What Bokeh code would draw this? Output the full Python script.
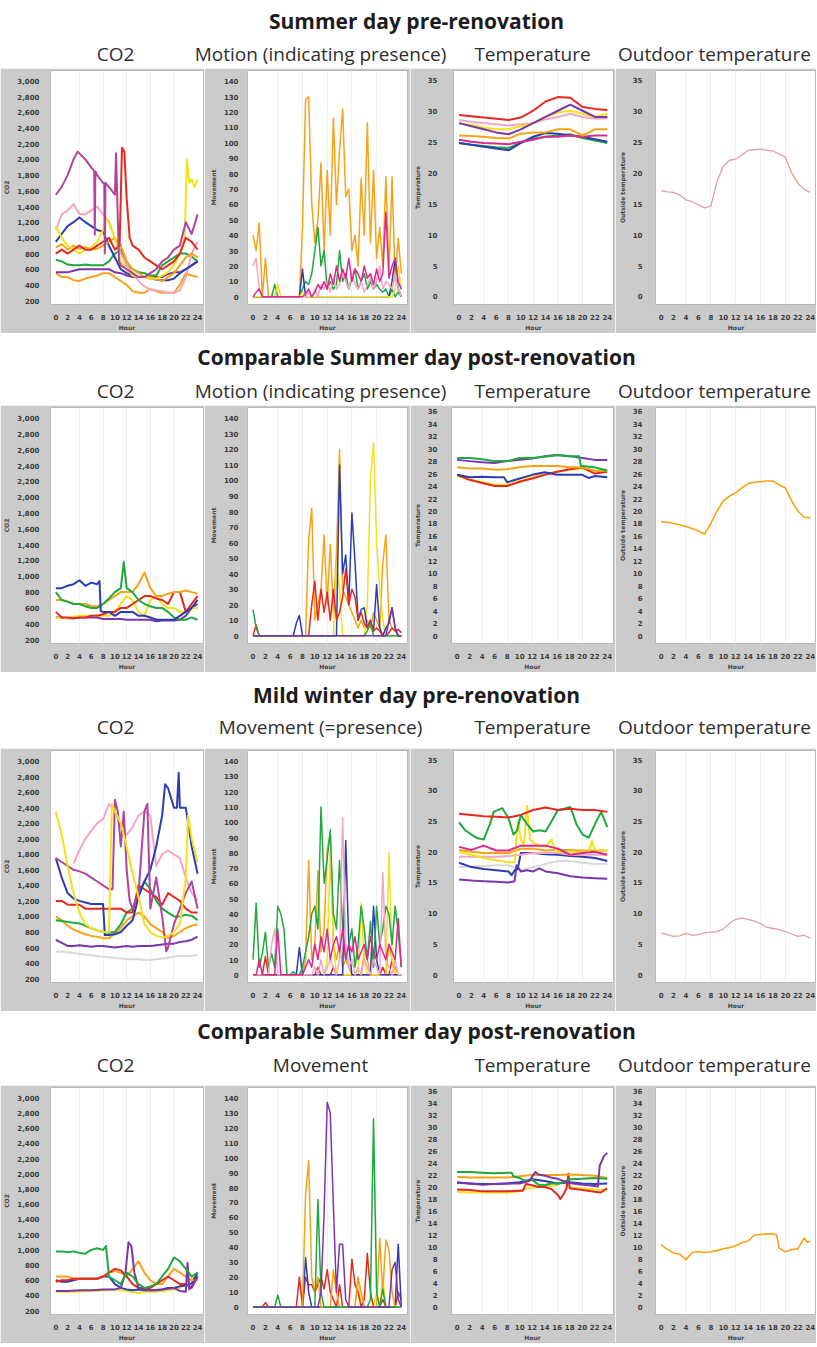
from bokeh.plotting import figure
from bokeh.layouts import column, row
from bokeh.models import Range1d, FixedTicker, NumeralTickFormatter
from bokeh.core.properties import value
from bokeh.embed import file_html
from bokeh.resources import INLINE

# ---------------- common x grids ----------------
HOURS = list(range(25))
EVEN_HOURS = list(range(0, 25, 2))
HALF_HOURS = [i / 2 for i in range(49)]
X_TICKS = list(range(0, 25, 2))

ROW_TITLES = ["Summer day pre-renovation", "Comparable Summer day post-renovation",
              "Mild winter day pre-renovation", "Comparable Summer day post-renovation"]
ROW_SUBTITLES = [["CO2", "Motion (indicating presence)", "Temperature", "Outdoor temperature"],
                 ["CO2", "Motion (indicating presence)", "Temperature", "Outdoor temperature"],
                 ["CO2", "Movement (=presence)", "Temperature", "Outdoor temperature"],
                 ["CO2", "Movement", "Temperature", "Outdoor temperature"]]

# ---------------- Row 1 : Summer day pre-renovation ----------------
R1_CO2_PLUM_X = [0, 1, 2, 3, 3.7, 5, 6, 6.5, 6.6, 6.7, 7, 8, 8.2, 8.3, 8.4, 9, 10, 10.2, 10.4, 10.7, 11, 12, 13, 14, 15, 16, 17, 18, 19, 20, 21, 22, 23, 24]
R1_CO2_PLUM = [1550, 1650, 1800, 2000, 2100, 2000, 1900, 1850, 1040, 1850, 1800, 1700, 1700, 800, 1700, 1650, 1550, 2080, 1500, 700, 650, 600, 550, 500, 500, 550, 600, 700, 750, 850, 900, 1200, 1050, 1300]
R1_CO2_RED_X = [0, 1, 2, 3, 4, 5, 6, 7, 8, 9, 10, 10.8, 11.2, 11.6, 12, 12.5, 13, 14, 15, 16, 17, 18, 19, 20, 21, 22, 23, 24]
R1_CO2_RED = [800, 850, 800, 850, 900, 850, 850, 900, 950, 1000, 850, 900, 2150, 2100, 1500, 1000, 900, 850, 750, 700, 650, 600, 650, 700, 800, 1000, 950, 850]
R1_CO2_PINK = [1100, 1300, 1350, 1430, 1300, 1300, 1350, 1400, 1300, 1200, 1000, 800, 650, 550, 450, 380, 340, 330, 320, 300, 300, 330, 500, 800, 950]
R1_CO2_BLUE = [950, 1050, 1150, 1200, 1260, 1200, 1150, 1100, 1080, 900, 750, 600, 550, 520, 500, 500, 480, 470, 460, 460, 480, 550, 600, 650, 700]
R1_CO2_YELLOW_X = [0, 1, 2, 3, 4, 5, 6, 7, 8, 8.5, 9, 10, 11, 12, 13, 14, 15, 16, 17, 18, 19, 20, 21, 21.8, 22.2, 22.6, 23, 23.5, 24]
R1_CO2_YELLOW = [1150, 1000, 900, 850, 800, 850, 880, 950, 1100, 1250, 1200, 1000, 700, 600, 520, 500, 500, 480, 480, 520, 560, 650, 800, 1000, 2000, 1700, 1750, 1650, 1750]
R1_CO2_ORANGE_HI = [880, 920, 850, 900, 860, 880, 850, 860, 900, 950, 1000, 900, 700, 600, 550, 500, 500, 480, 450, 500, 550, 650, 750, 800, 750]
R1_CO2_ORANGE_LO = [550, 500, 500, 460, 450, 480, 500, 520, 550, 550, 500, 450, 400, 320, 300, 300, 350, 320, 300, 300, 300, 400, 550, 520, 500]
R1_CO2_GREEN = [720, 700, 660, 650, 650, 660, 650, 650, 650, 700, 800, 850, 650, 600, 560, 550, 520, 520, 650, 700, 750, 800, 800, 760, 700]
R1_CO2_PURPLE = [560, 560, 560, 580, 600, 600, 600, 600, 600, 600, 560, 550, 520, 500, 500, 500, 500, 500, 500, 540, 560, 560, 600, 650, 700]

R1_MOV_ORANGE = [40, 30, 48, 0, 25, 0, 0, 0, 0, 0, 0, 0, 0, 0, 0, 0, 45, 128, 130, 60, 35, 50, 87, 30, 82, 40, 116, 60, 95, 122,
                 65, 70, 30, 40, 20, 77, 40, 113, 35, 82, 25, 45, 20, 78, 15, 78, 10, 38, 15]
R1_MOV_GREEN = [0, 0, 0, 0, 0, 0, 0, 8, 0, 0, 0, 0, 0, 0, 0, 0, 5, 10, 8, 15, 30, 45, 20, 30, 5, 10, 5, 8, 30, 10,
                15, 5, 12, 18, 5, 10, 15, 5, 10, 5, 8, 5, 3, 5, 0, 5, 0, 3, 0]
R1_MOV_MAGENTA = [0, 3, 5, 0, 0, 0, 0, 0, 0, 0, 0, 0, 0, 0, 0, 0, 0, 2, 5, 0, 3, 8, 5, 10, 5, 15, 8, 20, 10, 18,
                  12, 25, 10, 18, 15, 10, 20, 12, 15, 8, 18, 10, 15, 55, 12, 20, 25, 10, 5]
R1_MOV_PINK = [20, 25, 5, 0, 0, 0, 0, 0, 0, 0, 0, 0, 0, 0, 0, 0, 0, 0, 3, 0, 5, 0, 8, 5, 10, 3, 12, 5, 8, 15,
               10, 5, 15, 8, 5, 10, 3, 8, 12, 5, 10, 20, 5, 10, 8, 5, 15, 5, 0]
R1_MOV_BLUE = [0, 0, 0, 0, 0, 0, 0, 0, 0, 0, 0, 0, 0, 0, 0, 0, 18, 0, 0, 0, 0, 0, 0, 0, 0, 0, 0, 0, 0, 0,
               0, 0, 0, 0, 0, 0, 0, 0, 0, 0, 0, 0, 0, 0, 0, 10, 25, 5, 0]
R1_MOV_YELLOW = [0, 0, 0, 0, 0, 0, 0, 0, 8, 0, 0, 0, 0, 0, 0, 0, 3, 0, 0, 0, 0, 0, 0, 0, 0, 0, 0, 0, 0, 0,
                 0, 0, 0, 0, 0, 0, 0, 0, 0, 0, 0, 0, 0, 0, 0, 0, 5, 20, 5]

R1_T_RED = [29.3, 29.1, 28.9, 28.7, 28.5, 28.9, 30.0, 31.5, 32.2, 32.1, 30.6, 30.3, 30.1]
R1_T_PURPLE = [28.0, 27.5, 27.0, 26.5, 26.2, 27.0, 28.0, 29.0, 30.0, 31.0, 30.0, 29.0, 29.0]
R1_T_YELLOW = [28.0, 27.7, 27.3, 27.0, 27.0, 27.5, 28.0, 29.0, 29.7, 30.0, 29.5, 29.0, 29.5]
R1_T_PINK = [28.5, 28.2, 28.0, 27.8, 27.6, 27.8, 28.0, 28.6, 29.0, 29.5, 29.0, 28.7, 28.8]
R1_T_ORANGE = [26.0, 25.9, 25.8, 25.6, 25.5, 26.3, 26.5, 26.5, 27.0, 27.0, 26.0, 27.0, 27.0]
R1_T_MAGENTA = [25.3, 25.0, 24.8, 24.7, 24.6, 25.0, 25.3, 25.8, 25.8, 26.0, 25.8, 26.0, 26.0]
R1_T_BLUE = [24.8, 24.5, 24.2, 23.9, 23.6, 24.8, 25.8, 26.4, 26.3, 26.0, 25.8, 25.4, 25.0]
R1_T_GREEN = [24.8, 24.5, 24.3, 24.1, 24.0, 24.8, 25.5, 25.8, 26.0, 26.2, 25.6, 25.2, 24.8]

R1_OUTDOOR = [17.1, 16.9, 16.8, 16.4, 15.6, 15.3, 14.8, 14.3, 14.6, 18.6, 21.0, 22.0, 22.2, 22.8, 23.6, 23.7, 23.8, 23.6, 23.5, 23.0, 22.5, 20.0, 18.3, 17.3, 16.8]

# ---------------- Row 2 : Comparable summer day post-renovation ----------------
R2_CO2_BLUE_X = [0, 1, 2, 3, 4, 5, 6, 7, 7.4, 7.6, 8, 9, 10, 11, 12, 13, 14, 15, 16, 17, 18, 19, 20, 21, 22, 23, 24]
R2_CO2_BLUE = [850, 850, 880, 900, 950, 880, 920, 900, 940, 560, 550, 550, 500, 550, 550, 550, 500, 500, 480, 450, 450, 450, 450, 500, 550, 600, 700]
R2_CO2_GREEN_X = [0, 1, 2, 3, 4, 5, 6, 7, 8, 9, 10, 11, 11.5, 12, 13, 14, 15, 16, 17, 18, 19, 20, 21, 22, 23, 24]
R2_CO2_GREEN = [800, 700, 680, 650, 650, 620, 600, 600, 650, 720, 800, 850, 1180, 850, 800, 700, 650, 620, 600, 600, 550, 480, 450, 450, 480, 450]
R2_CO2_ORANGE = [700, 700, 680, 650, 650, 650, 620, 620, 650, 700, 750, 800, 800, 800, 900, 1050, 850, 750, 750, 780, 800, 800, 820, 800, 780]
R2_CO2_YELLOW = [470, 480, 470, 490, 500, 500, 500, 500, 500, 500, 550, 650, 750, 700, 550, 500, 700, 750, 650, 600, 600, 550, 550, 600, 600]
R2_CO2_RED = [550, 480, 480, 470, 480, 480, 500, 500, 520, 550, 550, 600, 600, 650, 700, 750, 750, 720, 700, 650, 800, 800, 550, 650, 750]
R2_CO2_PURPLE = [480, 480, 470, 470, 480, 480, 480, 480, 460, 460, 460, 460, 450, 450, 450, 450, 450, 430, 440, 440, 440, 450, 500, 600, 650]

R2_MOV_GREEN = [17, 5, 0, 0, 0, 0, 0, 0, 0, 0, 0, 0, 0, 0, 0, 0, 0, 0, 0, 0, 0, 0, 0, 0, 0, 0, 0, 0, 0, 0,
                0, 0, 0, 0, 0, 0, 0, 3, 8, 0, 0, 0, 0, 0, 0, 0, 0, 0, 0]
R2_MOV_BLUE = [0, 0, 0, 0, 0, 0, 0, 0, 0, 0, 0, 0, 0, 0, 8, 13, 0, 0, 0, 0, 0, 0, 0, 0, 0, 0, 0, 0, 110, 40,
               52, 20, 79, 48, 10, 17, 18, 5, 10, 3, 33, 5, 0, 5, 8, 18, 5, 0, 0]
R2_MOV_ORANGE = [0, 0, 0, 0, 0, 0, 0, 0, 0, 0, 0, 0, 0, 0, 0, 0, 0, 0, 62, 82, 10, 20, 30, 65, 20, 59, 15, 53, 120, 30,
                 25, 20, 15, 10, 5, 10, 5, 10, 5, 15, 10, 5, 47, 65, 10, 5, 3, 0, 0]
R2_MOV_YELLOW = [0, 0, 0, 0, 0, 0, 0, 0, 0, 0, 0, 0, 0, 0, 0, 0, 0, 0, 0, 0, 0, 0, 0, 0, 0, 0, 0, 45, 30, 0,
                 0, 0, 0, 0, 0, 0, 0, 20, 101, 124, 60, 30, 10, 0, 0, 0, 0, 0, 0]
R2_MOV_RED = [0, 7, 0, 0, 0, 0, 0, 0, 0, 0, 0, 0, 0, 0, 0, 0, 0, 0, 0, 20, 35, 10, 30, 15, 28, 10, 30, 10, 15, 25,
              43, 20, 30, 25, 10, 15, 8, 5, 10, 3, 5, 3, 0, 0, 2, 5, 3, 4, 2]
R2_MOV_PURPLE = [0, 0, 0, 0, 0, 0, 0, 0, 0, 0, 0, 0, 0, 0, 0, 0, 0, 0, 0, 0, 0, 0, 0, 0, 0, 0, 0, 0, 0, 0,
                 0, 0, 0, 0, 0, 0, 0, 0, 0, 0, 0, 0, 0, 0, 10, 18, 5, 0, 0]

R2_T_GREEN_X = [0, 2, 4, 6, 8, 10, 12, 14, 16, 18, 19.5, 19.8, 20, 22, 24]
R2_T_GREEN = [28.5, 28.5, 28.3, 28.0, 28.0, 28.5, 28.5, 28.7, 29.0, 28.8, 28.8, 27.2, 27.2, 27.0, 26.5]
R2_T_PURPLE = [28.2, 28.0, 27.8, 27.7, 28.0, 28.2, 28.4, 28.8, 29.0, 28.8, 28.5, 28.2, 28.2]
R2_T_ORANGE = [27.0, 26.8, 26.8, 26.6, 26.7, 27.0, 27.2, 27.2, 27.2, 27.0, 27.0, 26.5, 26.4]
R2_T_BLUE_X = [0, 2, 4, 6, 7.5, 8, 10, 12, 14, 16, 18, 20, 21, 22, 24]
R2_T_BLUE = [25.8, 25.4, 25.5, 25.4, 25.4, 24.6, 25.2, 25.8, 26.2, 25.8, 25.8, 25.8, 25.3, 25.6, 25.4]
R2_T_YELLOW = [25.6, 25.0, 24.6, 24.2, 24.2, 24.8, 25.4, 25.9, 26.3, 26.6, 26.8, 26.4, 26.2]
R2_T_RED = [25.8, 25.0, 24.5, 24.0, 24.0, 24.7, 25.2, 25.8, 26.3, 26.7, 27.0, 26.0, 26.3]

R2_OUTDOOR = [18.3, 18.2, 18.0, 17.8, 17.5, 17.2, 16.8, 16.3, 18.0, 20.0, 21.6, 22.4, 22.9, 23.7, 24.4, 24.6, 24.7, 24.8, 24.8, 24.2, 23.7, 21.6, 20.0, 19.0, 18.9]

# ---------------- Row 3 : Mild winter day pre-renovation ----------------
R3_CO2_BLUE_X = [0, 1, 2, 3, 4, 5, 6, 7, 8, 8.3, 9, 10, 11, 12, 13, 14, 15, 16, 17, 18, 18.5, 19, 20, 20.5, 20.8, 21, 22, 23, 24]
R3_CO2_BLUE = [1750, 1500, 1300, 1230, 1200, 1180, 1160, 1160, 1160, 760, 760, 770, 800, 880, 950, 1250, 1450, 1600, 1900, 2300, 2700, 2650, 2400, 2400, 2850, 2400, 2400, 1900, 1550]
R3_CO2_PINK_X = [3, 4, 5, 6, 7, 8, 9, 10, 11, 12, 13, 14, 15, 16, 17, 18, 19, 20, 21, 22, 23, 24]
R3_CO2_PINK = [1680, 1850, 2000, 2100, 2200, 2250, 2450, 2350, 2150, 2050, 2150, 2300, 2350, 2300, 1650, 1800, 1850, 1800, 1750, 1500, 1300, 1200]
R3_CO2_PLUM_X = [0, 1, 2, 3, 4, 5, 6, 7, 8, 9, 9.6, 10, 10.5, 11, 11.5, 12, 12.5, 13, 14, 15, 15.5, 16, 17, 18, 18.7, 19, 20, 21, 22, 23, 24]
R3_CO2_PLUM = [1750, 1700, 1650, 1600, 1580, 1550, 1500, 1450, 1400, 1350, 1350, 2500, 2350, 1900, 2350, 1600, 1200, 1100, 1300, 2350, 2450, 1100, 1500, 1000, 550, 600, 900, 1100, 1300, 1450, 1100]
R3_CO2_YELLOW_X = [0, 1, 2, 3, 4, 5, 6, 7, 8, 9, 9.5, 10, 11, 12, 13, 14, 15, 16, 17, 18, 19, 20, 21, 22, 22.4, 23, 24]
R3_CO2_YELLOW = [2350, 2050, 1650, 1300, 1050, 900, 850, 820, 800, 800, 2450, 2350, 2200, 1900, 1550, 1250, 900, 800, 750, 730, 750, 800, 900, 1500, 2300, 2000, 1700]
R3_CO2_RED = [1200, 1200, 1150, 1150, 1150, 1100, 1100, 1100, 1100, 1100, 1100, 1100, 1050, 1050, 1400, 1350, 1300, 1250, 1150, 1300, 1250, 1200, 1100, 1050, 1050]
R3_CO2_GREEN = [950, 940, 930, 920, 910, 880, 850, 820, 800, 790, 800, 900, 1050, 1100, 1300, 1450, 1350, 1200, 1100, 1050, 1000, 1000, 1020, 1010, 950]
R3_CO2_ORANGE = [1000, 950, 880, 830, 800, 770, 750, 740, 720, 720, 780, 850, 950, 1000, 1050, 1000, 900, 850, 800, 720, 750, 800, 850, 880, 900]
R3_CO2_PURPLE = [700, 660, 620, 620, 630, 620, 610, 620, 620, 610, 600, 610, 620, 610, 620, 620, 620, 630, 640, 650, 650, 670, 680, 700, 740]
R3_CO2_GRAY = [550, 545, 540, 530, 520, 510, 500, 490, 480, 475, 470, 460, 450, 450, 450, 440, 440, 450, 460, 470, 480, 490, 490, 495, 500]

R3_MOV_GREEN = [10, 47, 5, 14, 28, 5, 14, 5, 45, 40, 30, 0, 0, 2, 0, 0, 5, 15, 25, 40, 45, 30, 110, 60, 76, 95, 40, 30, 75, 30,
                10, 20, 30, 5, 20, 45, 30, 10, 35, 5, 45, 20, 30, 45, 40, 20, 45, 28, 5]
R3_MOV_ORANGE = [0, 0, 0, 0, 0, 0, 0, 0, 0, 0, 0, 0, 0, 0, 0, 0, 0, 10, 75, 10, 20, 68, 15, 30, 82, 92, 20, 10, 20, 5,
                 10, 5, 0, 0, 0, 0, 15, 10, 0, 0, 0, 0, 0, 0, 20, 10, 5, 0, 0]
R3_MOV_PINK = [0, 0, 0, 0, 0, 0, 20, 30, 0, 0, 0, 0, 0, 0, 0, 0, 0, 0, 0, 0, 5, 0, 10, 0, 5, 10, 5, 0, 10, 103,
               20, 5, 10, 0, 5, 0, 10, 5, 0, 10, 5, 0, 67, 10, 5, 0, 10, 0, 0]
R3_MOV_BLUE = [0, 0, 0, 0, 0, 0, 0, 0, 0, 0, 0, 0, 0, 0, 0, 18, 0, 0, 0, 0, 0, 0, 0, 0, 0, 0, 0, 0, 0, 0,
               88, 20, 0, 0, 0, 0, 0, 0, 0, 45, 10, 0, 0, 0, 0, 0, 0, 0, 0]
R3_MOV_YELLOW = [0, 0, 0, 0, 0, 0, 0, 0, 0, 0, 0, 0, 0, 0, 0, 0, 0, 0, 0, 0, 0, 0, 0, 0, 10, 80, 20, 0, 0, 0,
                 0, 0, 0, 0, 0, 47, 10, 0, 0, 0, 0, 0, 0, 0, 80, 10, 0, 0, 0]
R3_MOV_MAGENTA = [0, 0, 10, 0, 0, 0, 0, 0, 30, 0, 0, 0, 0, 0, 0, 0, 0, 5, 10, 5, 20, 10, 25, 15, 30, 10, 20, 25, 15, 30,
                  10, 20, 15, 25, 10, 15, 20, 10, 25, 15, 10, 20, 15, 10, 20, 15, 10, 37, 5]
R3_MOV_RED = [0, 0, 0, 0, 12, 0, 0, 0, 0, 0, 0, 0, 0, 0, 0, 0, 0, 0, 0, 0, 0, 5, 0, 0, 0, 0, 5, 0, 0, 0,
              0, 0, 0, 0, 0, 0, 0, 0, 0, 0, 0, 0, 5, 0, 0, 10, 0, 0, 0]

R3_T_RED = [26.2, 26.0, 25.8, 25.7, 25.6, 26.0, 26.8, 27.2, 26.8, 27.0, 26.8, 26.8, 26.5]
R3_T_GREEN_X = [0, 1, 2, 3, 4, 5, 5.6, 7, 8, 8.8, 9.4, 10, 11, 12, 13, 14, 15, 16, 17, 18, 18.5, 19, 20, 21, 22, 23, 24]
R3_T_GREEN = [24.8, 23.5, 22.8, 22.2, 22.0, 24.5, 26.5, 27.1, 25.5, 22.8, 23.5, 26.0, 24.5, 23.3, 23.5, 23.3, 25.0, 26.8, 27.0, 27.3, 26.0, 24.5, 22.8, 22.3, 24.5, 26.5, 24.0]
R3_T_YELLOW_X = [0, 2, 4, 6, 8, 9, 9.5, 10, 10.5, 11, 11.5, 12, 13, 14, 15, 15.5, 16, 18, 20, 21, 21.5, 22, 24]
R3_T_YELLOW = [20.0, 19.5, 19.0, 18.6, 18.3, 18.3, 25.0, 22.0, 21.0, 27.5, 22.0, 21.5, 21.0, 20.8, 22.0, 20.5, 20.0, 20.0, 20.0, 20.0, 21.8, 20.2, 20.2]
R3_T_MAGENTA = [20.8, 20.3, 21.0, 20.2, 20.2, 21.0, 21.0, 21.0, 20.5, 19.5, 19.8, 20.0, 19.5]
R3_T_ORANGE = [20.3, 20.0, 19.8, 19.8, 19.8, 20.5, 20.5, 20.2, 20.3, 20.3, 20.2, 20.2, 20.2]
R3_T_PINK = [19.2, 19.2, 19.2, 19.2, 19.3, 19.5, 19.8, 19.8, 19.8, 19.5, 19.5, 19.5, 19.5]
R3_T_BLUE_X = [0, 2, 4, 6, 8, 8.5, 9, 9.5, 10, 12, 14, 16, 18, 20, 22, 24]
R3_T_BLUE = [18.2, 17.5, 17.2, 17.0, 16.8, 16.2, 17.0, 17.2, 19.8, 19.8, 19.6, 19.5, 19.3, 19.2, 19.0, 18.5]
R3_T_GRAY = [17.5, 17.6, 17.7, 17.8, 17.8, 17.0, 17.5, 18.0, 18.5, 18.5, 18.2, 18.0, 18.0]
R3_T_PURPLE_X = [0, 2, 4, 6, 8, 9, 9.3, 10, 11, 12, 13, 14, 16, 18, 20, 22, 24]
R3_T_PURPLE = [15.5, 15.3, 15.2, 15.1, 15.0, 15.2, 17.8, 16.8, 17.0, 16.8, 17.3, 16.8, 16.5, 16.0, 15.8, 15.7, 15.6]

R3_OUTDOOR = [6.8, 6.5, 6.2, 6.3, 6.7, 6.4, 6.5, 6.8, 6.9, 7.0, 7.4, 8.3, 9.0, 9.2, 9.0, 8.7, 8.3, 7.7, 7.5, 7.3, 7.0, 6.6, 6.2, 6.4, 5.9]

# ---------------- Row 4 : Comparable day post-renovation ----------------
R4_CO2_GREEN_X = [0, 1, 2, 3, 4, 5, 6, 7, 8, 8.5, 9, 10, 11, 12, 13, 14, 15, 16, 17, 18, 19, 20, 21, 22, 23, 24]
R4_CO2_GREEN = [980, 980, 970, 980, 960, 950, 1000, 1020, 1000, 1050, 650, 600, 550, 700, 650, 550, 500, 520, 550, 650, 750, 900, 850, 750, 650, 700]
R4_CO2_PURPLE_X = [0, 2, 4, 6, 8, 10, 11, 11.8, 12.3, 12.8, 13.3, 14, 15, 16, 18, 20, 21, 22, 22.3, 22.6, 23, 24]
R4_CO2_PURPLE = [460, 460, 470, 470, 480, 480, 500, 700, 1100, 1050, 700, 500, 480, 470, 480, 500, 460, 450, 830, 480, 520, 650]
R4_CO2_RED = [580, 600, 600, 620, 620, 620, 620, 620, 650, 700, 750, 730, 650, 550, 500, 500, 500, 550, 600, 650, 600, 550, 550, 500, 650]
R4_CO2_ORANGE = [650, 650, 650, 620, 620, 620, 620, 620, 650, 700, 720, 700, 650, 750, 850, 700, 600, 550, 550, 650, 750, 700, 650, 600, 600]
R4_CO2_BLUE = [600, 580, 580, 600, 620, 620, 620, 620, 650, 650, 550, 500, 480, 470, 480, 470, 470, 470, 480, 500, 500, 520, 530, 560, 700]
R4_CO2_YELLOW = [450, 450, 450, 450, 450, 460, 460, 460, 470, 480, 480, 470, 460, 450, 430, 450, 450, 450, 460, 470, 480, 500, 560, 620, 650]

R4_MOV_PURPLE = [0, 0, 0, 0, 0, 0, 0, 0, 0, 0, 0, 0, 0, 0, 0, 0, 0, 0, 0, 0, 0, 0, 10, 63, 137, 130, 68, 10, 42, 42,
                 5, 0, 0, 0, 0, 0, 0, 0, 0, 0, 0, 0, 0, 0, 0, 25, 30, 5, 0]
R4_MOV_GREEN = [0, 0, 0, 0, 0, 0, 0, 0, 8, 0, 0, 0, 0, 0, 0, 0, 0, 0, 0, 0, 0, 72, 10, 0, 0, 0, 0, 0, 0, 0,
                0, 0, 0, 0, 0, 0, 0, 0, 5, 126, 10, 0, 12, 0, 0, 0, 0, 0, 0]
R4_MOV_ORANGE = [0, 0, 0, 0, 0, 0, 0, 0, 0, 0, 0, 0, 0, 0, 0, 0, 0, 75, 98, 20, 10, 20, 0, 0, 0, 0, 25, 10, 0, 0,
                 0, 0, 0, 0, 20, 10, 0, 0, 0, 0, 0, 46, 10, 45, 38, 10, 0, 0, 0]
R4_MOV_RED = [0, 0, 0, 0, 3, 0, 0, 0, 0, 0, 0, 0, 0, 0, 0, 20, 0, 20, 15, 15, 10, 15, 20, 12, 25, 10, 5, 0, 15, 0,
              0, 0, 32, 15, 10, 0, 5, 36, 10, 0, 0, 0, 5, 0, 0, 0, 0, 10, 5]
R4_MOV_BLUE = [0, 0, 0, 0, 0, 0, 0, 0, 0, 0, 0, 0, 0, 0, 0, 0, 0, 33, 10, 0, 0, 0, 0, 0, 0, 0, 0, 0, 0, 0,
               0, 0, 0, 0, 0, 0, 0, 0, 0, 0, 0, 0, 0, 0, 0, 0, 0, 42, 0]
R4_MOV_YELLOW = [0, 0, 0, 0, 0, 0, 0, 0, 0, 0, 0, 0, 0, 0, 0, 0, 0, 0, 0, 0, 0, 0, 0, 0, 0, 0, 0, 0, 0, 0,
                 0, 0, 0, 0, 20, 0, 0, 0, 0, 0, 10, 0, 20, 0, 0, 0, 0, 0, 0]

R4_T_GREEN_X = [0, 2, 4, 6, 8, 8.7, 9, 10, 11, 12, 13, 14, 15, 16, 17, 18, 20, 22, 24]
R4_T_GREEN = [22.5, 22.5, 22.4, 22.3, 22.4, 22.4, 21.8, 21.5, 21.0, 21.2, 20.4, 20.3, 20.6, 20.6, 20.8, 21.3, 21.4, 21.5, 21.4]
R4_T_ORANGE = [21.7, 21.6, 21.6, 21.6, 21.6, 21.8, 22.0, 22.0, 22.0, 22.1, 22.0, 21.9, 21.5]
R4_T_PURPLE_X = [0, 2, 4, 6, 8, 10, 11.5, 12.5, 13, 14, 15, 16, 17.5, 19, 21, 22.5, 22.8, 23.5, 24]
R4_T_PURPLE = [20.8, 20.6, 20.4, 20.5, 20.6, 20.6, 21.0, 22.5, 22.1, 21.9, 21.6, 21.4, 20.8, 20.5, 20.3, 20.1, 23.6, 25.2, 25.7]
R4_T_BLUE = [20.7, 20.6, 20.5, 20.5, 20.6, 20.8, 21.3, 21.0, 20.6, 20.8, 20.6, 20.5, 20.6]
R4_T_RED_X = [0, 2, 4, 6, 8, 10, 10.5, 11, 12, 13, 14, 15, 16, 16.5, 17, 17.5, 17.8, 18, 20, 22, 23, 24]
R4_T_RED = [19.6, 19.5, 19.3, 19.3, 19.3, 19.4, 19.4, 20.5, 20.3, 20.0, 20.0, 19.7, 18.8, 18.0, 18.8, 19.8, 22.2, 19.8, 19.5, 19.2, 19.1, 19.8]
R4_T_YELLOW_X = [0, 2, 4, 6, 8, 10, 11, 12, 14, 16, 17, 18, 20, 22, 24]
R4_T_YELLOW = [19.2, 19.1, 19.1, 19.1, 19.1, 19.3, 19.7, 19.9, 20.1, 20.3, 21.0, 19.9, 19.8, 19.6, 19.5]

R4_OUTDOOR_X = [0, 1, 2, 3, 4, 5, 6, 7, 8, 9, 10, 11, 12, 13, 14, 15, 16, 17, 18, 18.6, 19, 20, 21, 22, 23, 23.5, 24]
R4_OUTDOOR = [10.4, 9.6, 9.0, 8.8, 7.9, 9.1, 9.2, 9.1, 9.2, 9.4, 9.7, 9.9, 10.2, 10.7, 11.0, 12.0, 12.1, 12.2, 12.2, 12.0, 9.8, 9.2, 9.6, 9.7, 11.5, 10.8, 11.0]

# ---------------- styling ----------------
RED = "#e8281e"
ORANGE = "#f6a316"
YELLOW = "#f3e11a"
GREEN = "#1fa83d"
BLUE = "#2b3db0"
PURPLE = "#7b36ae"
PINK = "#f3a5c6"
PLUM = "#b0449e"
MAGENTA = "#dc2a8c"
LGRAY = "#d8d8d8"
SALMON = "#e3a09e"
PANEL_GRAY = "#cbcbcb"

TOTAL_W = 816
PANEL_WIDTHS = [204, 206, 205, 201]
PANEL_ML = [50, 43, 40, 40]
PANEL_MR = [1, 3, 2, 0]
PANEL_HEIGHTS = [265, 267, 263, 258]
HEADER_HEIGHTS = [68, 72, 76, 74]
TITLE_Y = [20, 23.5, 22.5, 19.5]
SUB_Y = [53.5, 57, 54.5, 53]
TITLE_X = 416
SUB_X = [115, 320, 532, 714]

KINDS = {
    "co2": dict(yr=(150, 3135), ticks=list(range(200, 3001, 200)), label="CO2", standoff=5, fmt=True),
    "mov": dict(yr=(-5, 147), ticks=list(range(0, 141, 10)), label="Movement", standoff=3, fmt=False),
    "t35": dict(yr=(-1.3, 36.5), ticks=list(range(0, 36, 5)), label="Temperature", standoff=10, fmt=False),
    "t36": dict(yr=(-1.25, 36.6), ticks=list(range(0, 37, 2)), label="Temperature", standoff=8, fmt=False),
    "o35": dict(yr=(-1.3, 36.5), ticks=list(range(0, 36, 5)), label="Outside temperature", standoff=7, fmt=False),
    "o36": dict(yr=(-1.25, 36.6), ticks=list(range(0, 37, 2)), label="Outside temperature", standoff=7, fmt=False),
}


def make_panel(col, height, kind, series, lw):
    k = KINDS[kind]
    p = figure(width=PANEL_WIDTHS[col], height=height,
               x_range=Range1d(-0.9, 25.0), y_range=Range1d(*k["yr"]),
               output_backend="svg", toolbar_location=None,
               min_border_left=PANEL_ML[col], min_border_right=PANEL_MR[col],
               min_border_top=2, min_border_bottom=22,
               background_fill_color="white", border_fill_color=PANEL_GRAY,
               outline_line_color="#b8b8b8")
    for xs, ys, color in series:
        p.line(xs, ys, line_color=color, line_width=lw, line_join="round")
    p.ygrid.visible = False
    p.xgrid.grid_line_color = "#f0f0f0"
    p.xgrid.ticker = FixedTicker(ticks=[4, 8, 12, 16, 20])
    # x axis
    xa = p.xaxis[0]
    xa.ticker = FixedTicker(ticks=X_TICKS)
    xa.axis_label = "Hour"
    xa.axis_label_text_font = "DejaVu Sans"
    xa.axis_label_text_font_size = "6px"
    xa.axis_label_text_font_style = "bold"
    xa.axis_label_text_color = "#444444"
    xa.axis_label_standoff = 1
    xa.major_label_text_font = "DejaVu Sans"
    xa.major_label_text_font_size = "7px"
    xa.major_label_text_font_style = "bold"
    xa.major_label_text_color = "#3c3c3c"
    xa.major_label_standoff = 3
    xa.axis_line_color = None
    xa.major_tick_line_color = None
    xa.minor_tick_line_color = None
    # y axis
    ya = p.yaxis[0]
    ya.ticker = FixedTicker(ticks=k["ticks"])
    if k["fmt"]:
        ya.formatter = NumeralTickFormatter(format="0,0")
    ya.axis_label = k["label"]
    ya.axis_label_text_font = "DejaVu Sans"
    ya.axis_label_text_font_size = "6px"
    ya.axis_label_text_font_style = "bold"
    ya.axis_label_text_color = "#444444"
    ya.axis_label_standoff = 4
    ya.major_label_text_font = "DejaVu Sans"
    ya.major_label_text_font_size = "7px"
    ya.major_label_text_font_style = "bold"
    ya.major_label_text_color = "#3c3c3c"
    ya.major_label_standoff = k["standoff"]
    ya.axis_line_color = None
    ya.major_tick_line_color = None
    ya.minor_tick_line_color = None
    return p


def make_header(i):
    h = HEADER_HEIGHTS[i]
    p = figure(width=TOTAL_W, height=h, x_range=Range1d(0, TOTAL_W), y_range=Range1d(h, 0),
               output_backend="svg", toolbar_location=None, min_border=0,
               x_axis_location=None, y_axis_location=None,
               outline_line_color=None, border_fill_color="white", background_fill_color="white")
    p.grid.visible = False
    p.text(x=[TITLE_X], y=[TITLE_Y[i]], text=[ROW_TITLES[i]], text_font=value("Open Sans"),
           text_font_style="bold", text_font_size="21px", text_align="center",
           text_baseline="middle", text_color="#1c1c1c")
    p.text(x=SUB_X, y=[SUB_Y[i]] * 4, text=ROW_SUBTITLES[i], text_font=value("Open Sans"),
           text_font_size="19px", text_align="center", text_baseline="middle", text_color="#2e2e2e")
    return p


ROW_SERIES = [
    [
        ("co2", 2.0, [
            (HOURS, R1_CO2_ORANGE_LO, ORANGE), (HOURS, R1_CO2_PURPLE, PURPLE), (HOURS, R1_CO2_GREEN, GREEN),
            (HOURS, R1_CO2_PINK, PINK), (HOURS, R1_CO2_BLUE, BLUE), (HOURS, R1_CO2_ORANGE_HI, ORANGE),
            (R1_CO2_YELLOW_X, R1_CO2_YELLOW, YELLOW), (R1_CO2_RED_X, R1_CO2_RED, RED),
            (R1_CO2_PLUM_X, R1_CO2_PLUM, PLUM)]),
        ("mov", 1.5, [
            (HALF_HOURS, R1_MOV_ORANGE, ORANGE), (HALF_HOURS, R1_MOV_GREEN, GREEN), (HALF_HOURS, R1_MOV_BLUE, BLUE),
            (HALF_HOURS, R1_MOV_YELLOW, YELLOW), (HALF_HOURS, R1_MOV_PINK, PINK), (HALF_HOURS, R1_MOV_MAGENTA, MAGENTA)]),
        ("t35", 2.0, [
            (EVEN_HOURS, R1_T_GREEN, GREEN), (EVEN_HOURS, R1_T_BLUE, BLUE), (EVEN_HOURS, R1_T_MAGENTA, MAGENTA),
            (EVEN_HOURS, R1_T_ORANGE, ORANGE), (EVEN_HOURS, R1_T_PINK, PINK), (EVEN_HOURS, R1_T_YELLOW, YELLOW),
            (EVEN_HOURS, R1_T_PURPLE, PURPLE), (EVEN_HOURS, R1_T_RED, RED)]),
        ("o35", 1.3, [(HOURS, R1_OUTDOOR, SALMON)]),
    ],
    [
        ("co2", 2.0, [
            (HOURS, R2_CO2_PURPLE, PURPLE), (HOURS, R2_CO2_YELLOW, YELLOW), (HOURS, R2_CO2_RED, RED),
            (HOURS, R2_CO2_ORANGE, ORANGE), (R2_CO2_GREEN_X, R2_CO2_GREEN, GREEN), (R2_CO2_BLUE_X, R2_CO2_BLUE, BLUE)]),
        ("mov", 1.5, [
            (HALF_HOURS, R2_MOV_ORANGE, ORANGE), (HALF_HOURS, R2_MOV_YELLOW, YELLOW), (HALF_HOURS, R2_MOV_BLUE, BLUE),
            (HALF_HOURS, R2_MOV_RED, RED), (HALF_HOURS, R2_MOV_GREEN, GREEN), (HALF_HOURS, R2_MOV_PURPLE, PURPLE)]),
        ("t36", 2.0, [
            (EVEN_HOURS, R2_T_YELLOW, YELLOW), (EVEN_HOURS, R2_T_RED, RED), (R2_T_BLUE_X, R2_T_BLUE, BLUE),
            (EVEN_HOURS, R2_T_ORANGE, ORANGE), (EVEN_HOURS, R2_T_PURPLE, PURPLE), (R2_T_GREEN_X, R2_T_GREEN, GREEN)]),
        ("o36", 1.6, [(HOURS, R2_OUTDOOR, ORANGE)]),
    ],
    [
        ("co2", 2.0, [
            (HOURS, R3_CO2_GRAY, LGRAY), (HOURS, R3_CO2_PURPLE, PURPLE), (HOURS, R3_CO2_ORANGE, ORANGE),
            (HOURS, R3_CO2_GREEN, GREEN), (HOURS, R3_CO2_RED, RED), (R3_CO2_PINK_X, R3_CO2_PINK, PINK),
            (R3_CO2_BLUE_X, R3_CO2_BLUE, BLUE), (R3_CO2_PLUM_X, R3_CO2_PLUM, PLUM),
            (R3_CO2_YELLOW_X, R3_CO2_YELLOW, YELLOW)]),
        ("mov", 1.5, [
            (HALF_HOURS, R3_MOV_RED, RED), (HALF_HOURS, R3_MOV_ORANGE, ORANGE), (HALF_HOURS, R3_MOV_YELLOW, YELLOW),
            (HALF_HOURS, R3_MOV_BLUE, BLUE), (HALF_HOURS, R3_MOV_GREEN, GREEN), (HALF_HOURS, R3_MOV_PINK, PINK),
            (HALF_HOURS, R3_MOV_MAGENTA, MAGENTA)]),
        ("t35", 2.0, [
            (EVEN_HOURS, R3_T_GRAY, LGRAY), (R3_T_PURPLE_X, R3_T_PURPLE, PURPLE), (R3_T_BLUE_X, R3_T_BLUE, BLUE),
            (EVEN_HOURS, R3_T_PINK, PINK), (EVEN_HOURS, R3_T_ORANGE, ORANGE), (R3_T_YELLOW_X, R3_T_YELLOW, YELLOW),
            (EVEN_HOURS, R3_T_MAGENTA, MAGENTA), (R3_T_GREEN_X, R3_T_GREEN, GREEN), (EVEN_HOURS, R3_T_RED, RED)]),
        ("o35", 1.3, [(HOURS, R3_OUTDOOR, SALMON)]),
    ],
    [
        ("co2", 2.0, [
            (HOURS, R4_CO2_YELLOW, YELLOW), (HOURS, R4_CO2_BLUE, BLUE), (HOURS, R4_CO2_ORANGE, ORANGE),
            (HOURS, R4_CO2_RED, RED), (R4_CO2_PURPLE_X, R4_CO2_PURPLE, PURPLE), (R4_CO2_GREEN_X, R4_CO2_GREEN, GREEN)]),
        ("mov", 1.5, [
            (HALF_HOURS, R4_MOV_YELLOW, YELLOW), (HALF_HOURS, R4_MOV_RED, RED), (HALF_HOURS, R4_MOV_BLUE, BLUE),
            (HALF_HOURS, R4_MOV_ORANGE, ORANGE), (HALF_HOURS, R4_MOV_GREEN, GREEN), (HALF_HOURS, R4_MOV_PURPLE, PURPLE)]),
        ("t36", 2.0, [
            (R4_T_YELLOW_X, R4_T_YELLOW, YELLOW), (R4_T_RED_X, R4_T_RED, RED), (EVEN_HOURS, R4_T_BLUE, BLUE),
            (EVEN_HOURS, R4_T_ORANGE, ORANGE), (R4_T_GREEN_X, R4_T_GREEN, GREEN), (R4_T_PURPLE_X, R4_T_PURPLE, PURPLE)]),
        ("o36", 1.6, [(R4_OUTDOOR_X, R4_OUTDOOR, ORANGE)]),
    ],
]

children = []
for i, panels in enumerate(ROW_SERIES):
    children.append(make_header(i))
    figs = [make_panel(c, PANEL_HEIGHTS[i], kind, series, lw) for c, (kind, lw, series) in enumerate(panels)]
    children.append(row(figs, spacing=0))

layout = column(children, spacing=0)

open("out.html", "w").write(file_html(layout, INLINE))
